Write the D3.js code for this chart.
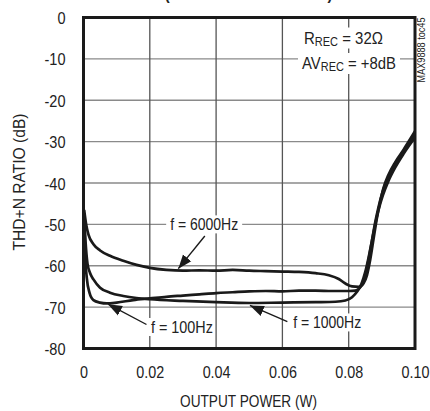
<!DOCTYPE html>
<html><head><meta charset="utf-8">
<script src="https://cdn.jsdelivr.net/npm/d3@7"></script>
<style>
body{margin:0;background:#fff}
svg text{font-family:"Liberation Sans","Arial",sans-serif;fill:#222}
</style></head>
<body><svg id="c" width="430" height="411"></svg>
<script>
// ---- data ----
const xTicks = [0, 0.02, 0.04, 0.06, 0.08, 0.10];
const xTickLabels = ["0", "0.02", "0.04", "0.06", "0.08", "0.10"];
const yTicks = [0, -10, -20, -30, -40, -50, -60, -70, -80];
const yTickLabels = ["0", "-10", "-20", "-30", "-40", "-50", "-60", "-70", "-80"];

const p6000 = [0.0002,0.0008,0.0015,0.003,0.005,0.008,0.012,0.016,0.02,0.025,0.03,0.035,0.04,0.045,0.05,0.055,0.06,0.065,0.07,0.074,0.077,0.079,0.081,0.083,0.0845,0.0855,0.0865,0.0875,0.0885,0.0895,0.0905,0.092,0.094,0.0965,0.1];
const t6000 = [-46.5,-50,-52.5,-54.8,-56.3,-57.6,-58.8,-59.8,-60.5,-61,-61.2,-61.1,-61.2,-61.0,-61.2,-61.3,-61.4,-61.5,-61.8,-62.3,-63.2,-64.3,-65.0,-65.1,-64.2,-62.3,-58.5,-53.5,-48.5,-44.5,-41.2,-38,-35,-32,-27.5];

const p100 = [0.0002,0.0005,0.001,0.0018,0.003,0.005,0.007,0.01,0.015,0.02,0.025,0.03,0.035,0.04,0.045,0.05,0.055,0.06,0.065,0.07,0.075,0.08,0.082,0.0835,0.0848,0.086,0.087,0.088,0.089,0.0902,0.092,0.094,0.0965,0.1];
const t100 = [-48,-57,-63,-66.5,-68.3,-68.9,-69.1,-68.9,-68.3,-67.9,-67.5,-67.2,-66.9,-66.6,-66.4,-66.2,-66.1,-66.2,-66.0,-66.0,-66.1,-66.1,-66.0,-65.2,-63,-58.5,-54,-49.5,-45.8,-42.2,-38.5,-35.5,-32.3,-28.3];

const p1000 = [0.0002,0.0006,0.0012,0.002,0.003,0.005,0.008,0.012,0.016,0.02,0.03,0.04,0.05,0.06,0.07,0.076,0.079,0.081,0.0825,0.0838,0.085,0.086,0.087,0.088,0.089,0.0903,0.092,0.094,0.0965,0.1];
const t1000 = [-48,-54,-59.5,-61.8,-63.3,-65.3,-66.5,-67.3,-67.8,-68.1,-68.5,-68.8,-69.0,-68.9,-68.8,-68.7,-68.4,-67.6,-66.3,-64.5,-61.5,-58,-54,-50,-46.5,-43,-39.5,-36.3,-33,-29];

const seriesNames = ["f = 6000Hz", "f = 100Hz", "f = 1000Hz"];

// ---- layout ----
const L = 83.5, R = 415, T = 17.5, B = 348.5;
const svg = d3.select("#c");
const x = d3.scaleLinear().domain([0, 0.1]).range([L, R]);
const y = d3.scaleLinear().domain([-80, 0]).range([B, T]);

// condensed text: horizontal squeeze by transform so the box is true
function ctext(parent, tx, ty, str, size, k, anchor, rot) {
  const t = parent.append("text")
    .attr("transform", `translate(${tx},${ty})${rot ? " rotate(" + rot + ")" : ""} scale(${k},1)`)
    .attr("text-anchor", anchor || "middle").style("font-size", size + "px").text(str);
  return t;
}
function ctextW(parent, tx, ty, str, size, width, anchor, rot) {
  const t = ctext(parent, tx, ty, str, size, 1, anchor, rot);
  const w = t.node().getComputedTextLength();
  t.attr("transform", `translate(${tx},${ty})${rot ? " rotate(" + rot + ")" : ""} scale(${width / w},1)`);
  return t;
}

// title (cut off at top edge, as in the reference)
ctextW(svg, 248.5, 0, "(RECEIVER AMPLIFIER)", 17, 166).style("font-weight", "bold");

// grid
const g = svg.append("g");
g.selectAll(".hg").data(yTicks.slice(1, -1)).join("line")
  .attr("x1", L).attr("x2", R).attr("y1", d => y(d)).attr("y2", d => y(d))
  .attr("stroke", "#8a8a8a").attr("stroke-width", 1.4);
g.selectAll(".vg").data(xTicks.slice(1, -1)).join("line")
  .attr("y1", T).attr("y2", B).attr("x1", d => x(d)).attr("x2", d => x(d))
  .attr("stroke", "#555").attr("stroke-width", 1.3);

// axes (d3 axis positions the ticks; labels are squeezed in place)
const yAxis = d3.axisLeft(y).tickValues(yTicks).tickFormat((d, i) => yTickLabels[i]).tickSize(0);
const ya = svg.append("g").attr("transform", `translate(${L},0)`).call(yAxis);
ya.select(".domain").remove();
ya.selectAll(".tick text").attr("x", null).attr("dy", null).attr("y", null)
  .attr("text-anchor", "end").attr("fill", "#222")
  .style("font-size", "16.5px").style("font-family", "'Liberation Sans', sans-serif")
  .attr("transform", "translate(-18,6) scale(0.88,1)");

const xAxis = d3.axisBottom(x).tickValues(xTicks).tickFormat((d, i) => xTickLabels[i]).tickSize(0);
const xa = svg.append("g").attr("transform", `translate(0,${B})`).call(xAxis);
xa.select(".domain").remove();
xa.selectAll(".tick text").attr("x", null).attr("dy", null).attr("y", null)
  .attr("text-anchor", "middle").attr("fill", "#222")
  .style("font-size", "16.5px").style("font-family", "'Liberation Sans', sans-serif")
  .attr("transform", "translate(0,29.5) scale(0.87,1)");

ctextW(svg, 248.5, 407, "OUTPUT POWER (W)", 16.5, 137);
ctextW(svg, 24.5, 182, "THD+N RATIO (dB)", 16.5, 137, "middle", -90);

// curves
const line = d3.line().x(d => x(d[0])).y(d => y(d[1])).curve(d3.curveMonotoneX);
const series = [[p6000, t6000], [p100, t100], [p1000, t1000]];
svg.selectAll(".curve").data(series).join("path")
  .attr("d", s => line(s[0].map((p, i) => [p, s[1][i]])))
  .attr("fill", "none").attr("stroke", "#1a1a1a").attr("stroke-width", 2.7).attr("stroke-linejoin", "round");

// frame
svg.append("rect").attr("x", L).attr("y", T).attr("width", R - L).attr("height", B - T)
  .attr("fill", "none").attr("stroke", "#1a1a1a").attr("stroke-width", 3);

// arrow marker
svg.append("defs").append("marker").attr("id", "ah").attr("viewBox", "0 0 10 10")
  .attr("refX", 10).attr("refY", 5).attr("markerWidth", 14).attr("markerHeight", 14)
  .attr("markerUnits", "userSpaceOnUse").attr("orient", "auto")
  .append("path").attr("d", "M0,1.2 L10,5 L0,8.8 Z").attr("fill", "#1a1a1a");

function maskBox(x0, y0, x1, y1) {
  return svg.append("rect").attr("x", x0).attr("y", y0).attr("width", x1 - x0).attr("height", y1 - y0).attr("fill", "#fff");
}
function arrow(x1, y1, x2, y2) {
  svg.append("line").attr("x1", x(x1)).attr("y1", y(y1)).attr("x2", x(x2)).attr("y2", y(y2))
    .attr("stroke", "#1a1a1a").attr("stroke-width", 1.4).attr("marker-end", "url(#ah)");
}
function annot(txt, dx, dy, width, pad) {
  const cx = x(dx), cy = y(dy);
  maskBox(cx - width / 2 - pad, cy - 9, cx + width / 2 + pad, cy + 9);
  ctextW(svg, cx, cy + 6, txt, 17, width);
}

// annotations (positions in data units)
annot(seriesNames[0], 0.0364, -50, 68, 4);
arrow(0.0366, -52.8, 0.0286, -60.7);
annot(seriesNames[1], 0.0297, -74.8, 62, 2);
arrow(0.0190, -74.2, 0.0074, -69.3);
annot(seriesNames[2], 0.0735, -73.7, 68, 2);
arrow(0.0615, -73.5, 0.0502, -69.6);

// condition text built from separate pieces (main + subscript)
function condLine(x0, base, parts, width, padL, padR) {
  const grp = svg.append("g");
  const mask = grp.append("rect").attr("fill", "#fff");
  const nodes = parts.map(p => grp.append("text").style("font-size", p[1] + "px").text(p[0]));
  const ws = nodes.map(n => n.node().getComputedTextLength());
  const k = width / d3.sum(ws);
  let cx = x0;
  nodes.forEach((n, i) => {
    n.attr("transform", `translate(${cx},${base + parts[i][2]}) scale(${k},1)`);
    cx += ws[i] * k;
  });
  mask.attr("x", x0 - padL).attr("y", base - 16).attr("width", width + padL + padR).attr("height", 21);
}
condLine(304, 43.5, [["R", 17, 0], ["REC", 12.5, 2], ["\u00a0= 32Ω", 17, 0]], 79, 3, 3);
condLine(302, 69, [["AV", 17, 0], ["REC", 12.5, 2], ["\u00a0= +8dB", 17, 0]], 94, 4, 4);

ctextW(svg, 424.5, 50, "MAX9888 toc45", 10.5, 65, "middle", -90);
</script></body></html>
